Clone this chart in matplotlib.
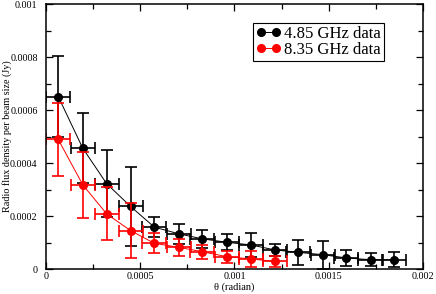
import matplotlib
matplotlib.use("Agg")
import matplotlib.pyplot as plt
from matplotlib.ticker import MultipleLocator, FixedFormatter, FixedLocator

plt.rcParams['font.family'] = ['Liberation Serif', 'DejaVu Serif']

# 4.85 GHz data
theta_485 = [0.000065, 0.000195, 0.000322, 0.000449, 0.000575, 0.000704, 0.000828,
             0.000959, 0.001086, 0.001215, 0.001339, 0.001468, 0.001592, 0.001722, 0.001848]
flux_485 = [0.000651, 0.000456, 0.000322, 0.000236, 0.000158, 0.000133, 0.000114,
            0.000101, 0.000091, 0.000072, 0.000063, 0.000054, 0.000042, 0.000035, 0.000035]
ferr_485 = [0.000154, 0.000133, 0.000126, 0.000148, 0.000038, 0.000037, 0.000034,
            0.000030, 0.000046, 0.000023, 0.000047, 0.000053, 0.000030, 0.000024, 0.000028]
terr_485 = [0.000064] * 15

# 8.35 GHz data
theta_835 = theta_485[:10]
flux_835 = [0.000489, 0.000318, 0.000208, 0.000145, 0.000097, 0.000082, 0.0000655,
            0.0000466, 0.000038, 0.0000288]
ferr_835 = [0.000136, 0.000125, 0.000100, 0.000103, 0.000038, 0.000031, 0.000027,
            0.000023, 0.000030, 0.000021]
terr_835 = [0.000064] * 10

fig = plt.figure(figsize=(4.36, 2.94), dpi=100)
ax = fig.add_axes([0.1055, 0.085, 0.8645, 0.901])

series = [
    (theta_485, flux_485, ferr_485, terr_485, "black", "4.85 GHz data"),
    (theta_835, flux_835, ferr_835, terr_835, "red", "8.35 GHz data"),
]
handles = []
for th, fl, fe, te, col, lab in series:
    ax.errorbar(th, fl, yerr=fe, xerr=te, fmt="none", ecolor=col,
                elinewidth=1.2, capsize=4, capthick=1.2)
    ln, = ax.plot(th, fl, "-o", color=col, lw=0.7, markersize=5.5, label=lab)
    handles.append(ln)

ax.set_xlim(0, 0.002)
ax.set_ylim(0, 0.001)

ax.xaxis.set_major_locator(FixedLocator([0, 0.0005, 0.001, 0.0015, 0.002]))
ax.xaxis.set_major_formatter(FixedFormatter(["0", "0.0005", "0.001", "0.0015", "0.002"]))
ax.xaxis.set_minor_locator(MultipleLocator(0.00025))
ax.yaxis.set_major_locator(FixedLocator([0, 0.0002, 0.0004, 0.0006, 0.0008, 0.001]))
ax.yaxis.set_major_formatter(FixedFormatter(["0", "0.0002", "0.0004", "0.0006", "0.0008", "0.001"]))
ax.yaxis.set_minor_locator(MultipleLocator(0.0001))

ax.tick_params(which="both", direction="in", top=True, right=True, labelsize=7.3)
ax.tick_params(which="major", length=5, width=0.9)
ax.tick_params(which="minor", length=3.5, width=0.9)
ax.tick_params(axis="x", pad=2.5)
ax.tick_params(axis="y", pad=6)
for s in ax.spines.values():
    s.set_linewidth(1.1)

ax.set_xlabel("θ (radian)", fontsize=7.5, labelpad=1)
ax.set_ylabel("Radio flux density per beam size (Jy)", fontsize=7.3, va="center")
ax.yaxis.set_label_coords(-0.104, 0.5)

leg = ax.legend(handles=handles, loc="upper left", bbox_to_anchor=(0.549, 0.93),
                fontsize=12, numpoints=2, handlelength=1.5, handletextpad=0.15,
                labelspacing=0.0, borderpad=0.2, borderaxespad=0, fancybox=False,
                framealpha=1)
leg.get_frame().set_edgecolor("black")
leg.get_frame().set_linewidth(0.8)

fig.savefig("out.png", dpi=100)
